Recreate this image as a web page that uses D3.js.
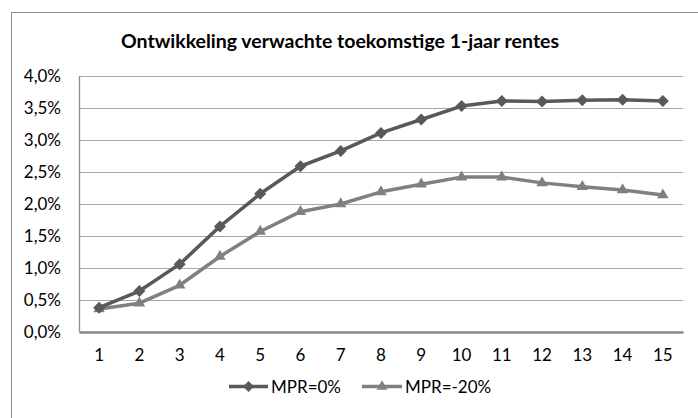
<!DOCTYPE html>
<html>
<head>
<meta charset="utf-8">
<script src="https://cdn.jsdelivr.net/npm/d3@7"></script>
<style>
  html, body { margin: 0; padding: 0; background: #fff; }
  svg { display: block; font-family: Lato, "Open Sans", sans-serif; }
</style>
</head>
<body>
<svg id="chart" width="698" height="418"></svg>
<script>
// Expected future 1-year rates per year, two market price of risk scenarios
const years = [1, 2, 3, 4, 5, 6, 7, 8, 9, 10, 11, 12, 13, 14, 15];
const mpr0 = [0.38, 0.64, 1.06, 1.65, 2.16, 2.59, 2.83, 3.11, 3.32, 3.53, 3.61, 3.60, 3.62, 3.63, 3.61];
const mprMin20 = [0.36, 0.45, 0.73, 1.18, 1.57, 1.88, 2.00, 2.19, 2.31, 2.42, 2.42, 2.33, 2.27, 2.22, 2.14];
const yTicks = [0, 0.5, 1.0, 1.5, 2.0, 2.5, 3.0, 3.5, 4.0];
const seriesNames = ["MPR=0%", "MPR=-20%"];
const titleText = "Ontwikkeling verwachte toekomstige 1-jaar rentes";

const FONT = "Lato, 'Open Sans', sans-serif";
const svg = d3.select("#chart");
const plot = { left: 79, right: 683, top: 76, bottom: 332 };

// outer chart frame (runs off the right and bottom edges)
svg.append("rect")
  .attr("x", 11.5).attr("y", 12.5)
  .attr("width", 700).attr("height", 420)
  .attr("fill", "#fff").attr("stroke", "#8c8c8c").attr("stroke-width", 1);

svg.append("text")
  .attr("x", 340).attr("y", 48)
  .attr("text-anchor", "middle")
  .attr("font-weight", "bold").attr("font-size", 19.5)
  .attr("fill", "#000")
  .text(titleText);

const x = d3.scaleBand().domain(years).range([plot.left, plot.right]);
const y = d3.scaleLinear().domain([0, 4]).range([plot.bottom, plot.top]);
const cx = d => x(d) + x.bandwidth() / 2;

// horizontal gridlines
svg.append("g").selectAll("line").data(yTicks.filter(t => t > 0)).join("line")
  .attr("x1", plot.left).attr("x2", plot.right)
  .attr("y1", d => Math.round(y(d)) + 0.5).attr("y2", d => Math.round(y(d)) + 0.5)
  .attr("stroke", "#a6a6a6").attr("stroke-width", 1);

// plot area left border
svg.append("line")
  .attr("x1", plot.left + 0.5).attr("x2", plot.left + 0.5)
  .attr("y1", plot.top).attr("y2", plot.bottom)
  .attr("stroke", "#8c8c8c").attr("stroke-width", 1.3);

// y axis labels
const fmt = d => d.toFixed(1).replace(".", ",") + "%";
const yAxis = d3.axisLeft(y).tickValues(yTicks).tickFormat(fmt).tickSize(0).tickPadding(18);
const gy = svg.append("g").attr("transform", `translate(${plot.left},0)`).call(yAxis);
gy.select(".domain").remove();
gy.selectAll("text").attr("font-size", 17).attr("fill", "#000").attr("font-family", FONT);

// x axis
const xAxis = d3.axisBottom(x).tickSize(0).tickPadding(17);
const gx = svg.append("g").attr("transform", `translate(0,${plot.bottom})`).call(xAxis);
gx.select(".domain").attr("stroke", "#878787").attr("stroke-width", 2.5);
gx.selectAll("text").attr("font-size", 17).attr("fill", "#000").attr("font-family", FONT);

const colors = ["#595959", "#808080"];
const line = d3.line().x((d, i) => cx(years[i])).y(d => y(d));

const triangle = d3.symbol().type(d3.symbolTriangle2).size(95);
const diamond = d3.symbol().type(d3.symbolSquare).size(72);

// MPR=-20% series drawn first so the darker line sits on top
svg.append("path").datum(mprMin20)
  .attr("fill", "none").attr("stroke", colors[1]).attr("stroke-width", 3.5)
  .attr("stroke-linejoin", "round").attr("d", line);
svg.append("g").selectAll("path").data(mprMin20).join("path")
  .attr("transform", (d, i) => `translate(${cx(years[i])},${y(d)})`)
  .attr("d", triangle).attr("fill", colors[1]);

svg.append("path").datum(mpr0)
  .attr("fill", "none").attr("stroke", colors[0]).attr("stroke-width", 3.5)
  .attr("stroke-linejoin", "round").attr("d", line);
svg.append("g").selectAll("path").data(mpr0).join("path")
  .attr("d", diamond).attr("fill", colors[0])
  .attr("transform", (d, i) => `translate(${cx(years[i])},${y(d)}) rotate(45)`);

// legend
const legendItems = [
  { name: seriesNames[0], color: colors[0], x1: 229, x2: 268, sym: "diamond" },
  { name: seriesNames[1], color: colors[1], x1: 362, x2: 402, sym: "triangle" }
];
const ly = 386.5;
const lg = svg.append("g");
legendItems.forEach(it => {
  lg.append("line").attr("x1", it.x1).attr("x2", it.x2).attr("y1", ly).attr("y2", ly)
    .attr("stroke", it.color).attr("stroke-width", 3.5);
  const mx = (it.x1 + it.x2) / 2;
  if (it.sym === "diamond") {
    lg.append("path").attr("d", d3.symbol().type(d3.symbolSquare).size(60))
      .attr("transform", `translate(${mx},${ly}) rotate(45)`).attr("fill", it.color);
  } else {
    lg.append("path").attr("d", d3.symbol().type(d3.symbolTriangle2).size(85))
      .attr("transform", `translate(${mx},${ly})`).attr("fill", it.color);
  }
  lg.append("text").attr("x", it.x2 + 3).attr("y", ly + 6.5)
    .attr("font-size", 17).attr("fill", "#000").attr("font-family", FONT).text(it.name);
});
</script>
</body>
</html>
